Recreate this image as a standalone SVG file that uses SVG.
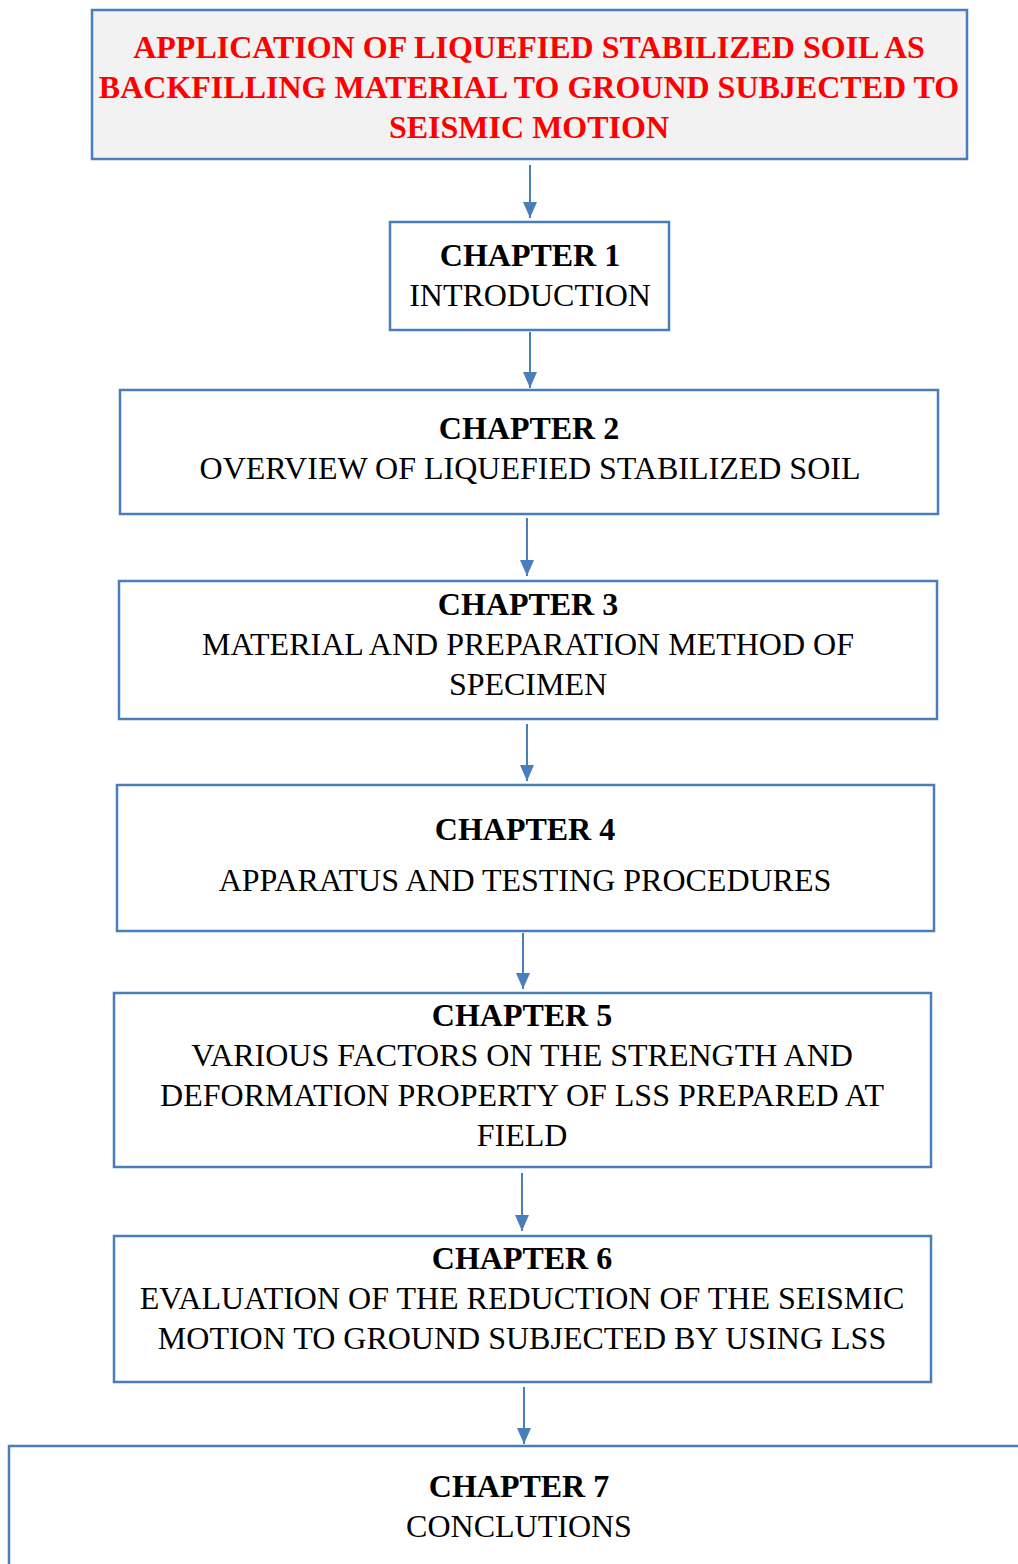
<svg xmlns="http://www.w3.org/2000/svg" width="1018" height="1564" viewBox="0 0 1018 1564">
<style>
.box{fill:#fff;stroke:#4a7ebb;stroke-width:2.5}
.title{fill:#f2f2f2;stroke:#4a7ebb;stroke-width:2.5}
text{font-family:"Liberation Serif","Times New Roman",serif;font-size:32px;text-anchor:middle;fill:#000}
.b{font-weight:bold}
.red{fill:#ff0000;font-weight:bold}
.conn line{stroke:#4a7ebb;stroke-width:2;marker-end:url(#ah)}
</style>
<defs>
<marker id="ah" markerWidth="16" markerHeight="14" refX="16" refY="7" orient="auto" markerUnits="userSpaceOnUse" viewBox="0 0 16 14">
<path d="M0,0 L16,7 L0,14 Z" fill="#4a7ebb"/>
</marker>
</defs>
<rect width="1018" height="1564" fill="#fff"/>
<g class="conn">
<line x1="530" y1="165" x2="530" y2="218"/>
<line x1="530" y1="332" x2="530" y2="388"/>
<line x1="527" y1="518" x2="527" y2="576"/>
<line x1="527" y1="724" x2="527" y2="781"/>
<line x1="523" y1="933" x2="523" y2="989"/>
<line x1="522" y1="1173" x2="522" y2="1231"/>
<line x1="524" y1="1387" x2="524" y2="1444"/>
</g>
<g id="title">
<rect class="title" x="92" y="10" width="875" height="149"/>
<text class="red" x="529" y="58">APPLICATION OF LIQUEFIED STABILIZED SOIL AS</text>
<text class="red" x="529" y="98">BACKFILLING MATERIAL TO GROUND SUBJECTED TO</text>
<text class="red" x="529" y="138">SEISMIC MOTION</text>
</g>
<g id="ch1">
<rect class="box" x="390" y="222" width="279" height="108"/>
<text class="b" x="530" y="266">CHAPTER 1</text>
<text x="530" y="306">INTRODUCTION</text>
</g>
<g id="ch2">
<rect class="box" x="120" y="390" width="818" height="124"/>
<text class="b" x="529" y="439">CHAPTER 2</text>
<text x="530" y="479">OVERVIEW OF LIQUEFIED STABILIZED SOIL</text>
</g>
<g id="ch3">
<rect class="box" x="119" y="581" width="818" height="138"/>
<text class="b" x="528" y="615">CHAPTER 3</text>
<text x="528" y="655">MATERIAL AND PREPARATION METHOD OF</text>
<text x="528" y="695">SPECIMEN</text>
</g>
<g id="ch4">
<rect class="box" x="117" y="785" width="817" height="146"/>
<text class="b" x="525" y="840">CHAPTER 4</text>
<text x="525" y="891">APPARATUS AND TESTING PROCEDURES</text>
</g>
<g id="ch5">
<rect class="box" x="114" y="993" width="817" height="174"/>
<text class="b" x="522" y="1026">CHAPTER 5</text>
<text x="522" y="1066">VARIOUS FACTORS ON THE STRENGTH AND</text>
<text x="522" y="1106">DEFORMATION PROPERTY OF LSS PREPARED AT</text>
<text x="522" y="1146">FIELD</text>
</g>
<g id="ch6">
<rect class="box" x="114" y="1236" width="817" height="146"/>
<text class="b" x="522" y="1269">CHAPTER 6</text>
<text x="522" y="1309">EVALUATION OF THE REDUCTION OF THE SEISMIC</text>
<text x="522" y="1349">MOTION TO GROUND SUBJECTED BY USING LSS</text>
</g>
<g id="ch7">
<rect class="box" x="9" y="1446" width="1020" height="140"/>
<text class="b" x="519" y="1497">CHAPTER 7</text>
<text x="519" y="1537">CONCLUTIONS</text>
</g>
</svg>
